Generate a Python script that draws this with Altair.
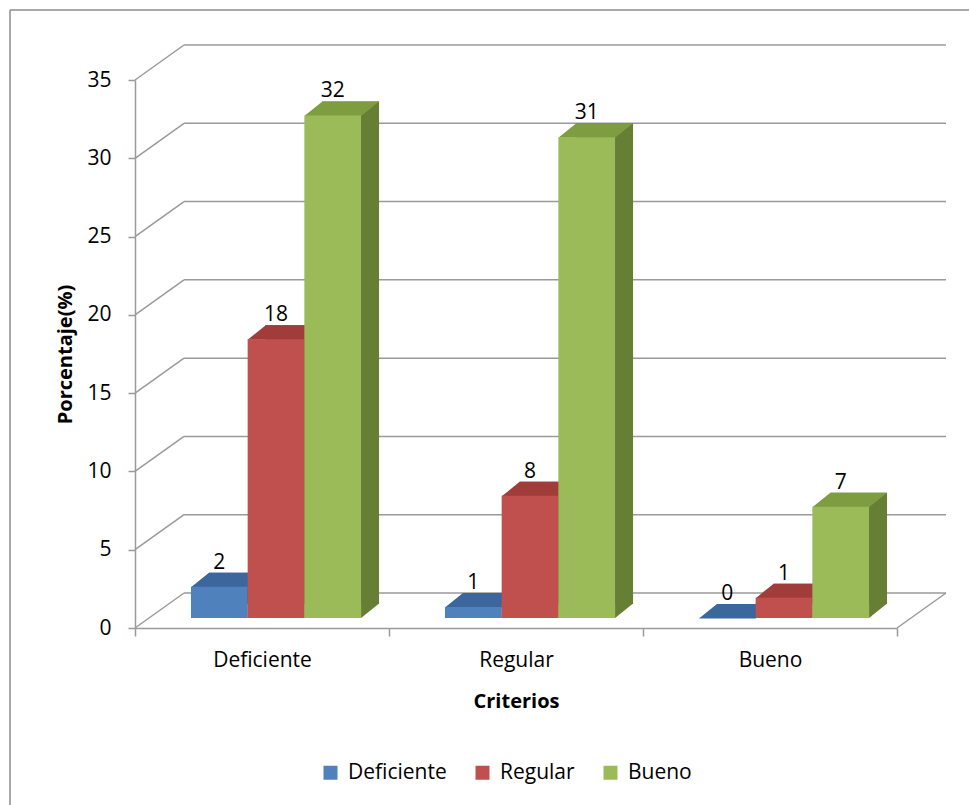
import altair as alt
import pandas as pd

# ---- data ----
criterios = ["Deficiente", "Regular", "Bueno"]
series = ["Deficiente", "Regular", "Bueno"]
serie_deficiente = [2.0, 0.7, 0.0]
serie_regular = [17.8, 7.8, 1.3]
serie_bueno = [32.1, 30.7, 7.1]
y_ticks = [0, 5, 10, 15, 20, 25, 30, 35]

front_colors = ["#4F81BD", "#C0504D", "#9BBB59"]
top_colors = ["#3B679C", "#A03D3B", "#7E9C40"]
side_colors = ["#30588A", "#8A3432", "#677E35"]

rows = []
for s, vals in zip(series, [serie_deficiente, serie_regular, serie_bueno]):
    for c, v in zip(criterios, vals):
        rows.append({"criterio": c, "serie": s, "valor": v, "base": 0})
df = pd.DataFrame(rows)
ticks_df = pd.DataFrame({"v": y_ticks})

FONT = "Open Sans"
GRID = "#9a9a9a"
W, H = 762, 548
DEPTH_X, DEPTH_Y = 49, 35      # wall depth (style)
BAR_LIFT = 10                  # bar front face above floor front edge
BAR_W = 56.7                   # bar width (style)
BAR_DX, BAR_DY = 18, 14        # bar depth (style)
SHIFT = 14                     # group shift caused by depth (style)

xs = alt.Scale(domain=criterios, paddingInner=0, paddingOuter=0)
ys = alt.Scale(domain=[0, 35], nice=False, zero=True)

AX_X = alt.Axis(title="Criterios", labelAngle=0, tickBand="extent", tickSize=8,
                domainColor=GRID, tickColor=GRID, domainWidth=1.5, tickWidth=1.5,
                labelFont=FONT, labelFontSize=21, labelColor="#000", labelPadding=13,
                titleFont=FONT, titleFontSize=20, titleFontWeight="bold",
                titleColor="#000", titlePadding=21)
AX_Y = alt.Axis(title="Porcentaje(%)", values=y_ticks, grid=False, tickSize=7,
                domainColor=GRID, tickColor=GRID, domainWidth=1.5, tickWidth=1.5,
                labelFont=FONT, labelFontSize=21, labelColor="#000", labelPadding=17,
                titleFont=FONT, titleFontSize=20, titleFontWeight="bold",
                titleColor="#000", titlePadding=11)

X = alt.X("criterio:N", sort=criterios, scale=xs, axis=AX_X)
Y = alt.Y("valor:Q", scale=ys, axis=AX_Y)
Y0 = alt.Y("base:Q", scale=ys, axis=AX_Y)
YT = alt.Y("v:Q", scale=ys, axis=AX_Y)

# ---- walls / floor ----
back_grid = alt.Chart(ticks_df).mark_rule(color=GRID, strokeWidth=1.5, yOffset=-DEPTH_Y).encode(
    y=YT, x=alt.value(DEPTH_X), x2=alt.value(W + DEPTH_X),
)
diag = alt.Chart(ticks_df).mark_rule(color=GRID, strokeWidth=1.5, y2Offset=-DEPTH_Y).encode(
    y=YT, y2=alt.Y2("v"), x=alt.value(0), x2=alt.value(DEPTH_X),
)
floor_right = alt.Chart(ticks_df).transform_filter("datum.v == 0").mark_rule(
    color=GRID, strokeWidth=1.5, y2Offset=-DEPTH_Y).encode(
    y=YT, y2=alt.Y2("v"), x=alt.value(W), x2=alt.value(W + DEPTH_X),
)

# ---- outer frame (left and top edges of the chart box) ----
frame_top = alt.Chart(ticks_df).transform_filter("datum.v == 35").mark_rule(
    color="#8c8c8c", strokeWidth=1.5, yOffset=-70).encode(
    y=YT, x=alt.value(-125), x2=alt.value(969 - 135),
)
frame_left = alt.Chart(ticks_df).transform_filter("datum.v == 35").mark_rule(
    color="#8c8c8c", strokeWidth=1.5, yOffset=-70, y2Offset=805 - 80).encode(
    y=YT, y2=alt.Y2("v"), x=alt.value(-125),
)

# ---- 3D bars, one group of layers per series ----
sides, tops, fronts, labels = [], [], [], []
for i, s in enumerate(series):
    off = (i - 1) * BAR_W + SHIFT
    sub = alt.Chart(df).transform_filter(alt.datum.serie == s)
    sides.append(sub.mark_bar(
        width=BAR_W, color=side_colors[i], xOffset=off + BAR_DX,
        yOffset=-BAR_LIFT - BAR_DY, y2Offset=-BAR_LIFT - BAR_DY,
    ).encode(x=X, y=Y, y2=alt.Y2("base")))
    sides.append(sub.mark_point(
        filled=True, opacity=1, size=4, strokeWidth=0, color=side_colors[i],
        xOffset=off, yOffset=-BAR_LIFT,
        shape=f"M {BAR_W/2} 0 L {BAR_W/2} {-BAR_DY-0.5} L {BAR_W/2+BAR_DX} {-BAR_DY-0.5} Z",
    ).encode(x=X, y=Y0))
    tops.append(sub.mark_point(
        filled=True, opacity=1, size=4, strokeWidth=0, color=top_colors[i],
        xOffset=off, yOffset=-BAR_LIFT,
        shape=(f"M {-BAR_W/2} 0.5 L {BAR_W/2} 0.5 L {BAR_W/2+BAR_DX} {-BAR_DY} "
               f"L {-BAR_W/2+BAR_DX} {-BAR_DY} Z"),
    ).encode(x=X, y=Y))
    fronts.append(sub.mark_bar(
        width=BAR_W, xOffset=off, yOffset=-BAR_LIFT, y2Offset=-BAR_LIFT, opacity=1,
    ).encode(
        x=X, y=Y, y2=alt.Y2("base"),
        color=alt.Color("serie:N", sort=series,
                        scale=alt.Scale(domain=series, range=front_colors),
                        legend=alt.Legend(title=None, orient="none", direction="horizontal",
                                          legendX=185, legendY=682, symbolType="square",
                                          symbolSize=196, symbolStrokeWidth=0, symbolOpacity=1,
                                          labelFont=FONT, labelFontSize=21, labelColor="#000",
                                          labelOffset=7, columnPadding=25, padding=0)),
    ))
    labels.append(sub.mark_text(
        font=FONT, fontSize=21, color="#000", baseline="alphabetic",
        xOffset=off, yOffset=-BAR_LIFT - 18,
    ).encode(x=X, y=Y, text=alt.Text("valor:Q", format=".0f")))

chart = alt.layer(
    frame_top, frame_left, back_grid, diag, floor_right,
    *sides, *tops, *fronts, *labels,
).properties(
    width=W, height=H,
    autosize=alt.AutoSizeParams(type="none"),
    padding={"left": 135, "top": 80, "right": 969 - 135 - W, "bottom": 805 - 80 - H},
    background="white",
).configure_view(strokeWidth=0)

chart.save("out.html", embed_options={"renderer": "svg", "actions": False})
